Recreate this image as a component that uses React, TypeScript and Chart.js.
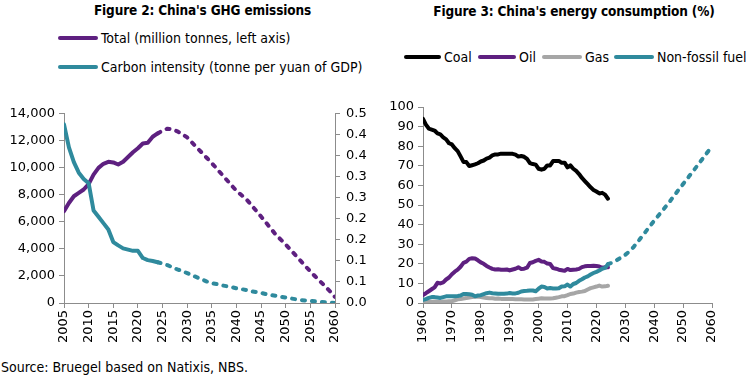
import React, { useEffect, useRef } from "react";
import { Chart, registerables } from "chart.js";
Chart.register(...registerables);

// ---------- Figure 2 data ----------
const ghgHistYears = [2005, 2006, 2007, 2008, 2009, 2010, 2011, 2012, 2013, 2014, 2015, 2016, 2017, 2018, 2019, 2020, 2021, 2022, 2023, 2024];
const totalHist = [6800, 7400, 7900, 8150, 8400, 8800, 9500, 10000, 10300, 10450, 10400, 10250, 10450, 10800, 11150, 11450, 11800, 11850, 12300, 12550];
const intensityHist = [0.425, 0.37, 0.335, 0.31, 0.295, 0.285, 0.22, 0.205, 0.19, 0.175, 0.145, 0.137, 0.13, 0.127, 0.124, 0.124, 0.107, 0.102, 0.1, 0.097];

const ghgProjYears = [2024, 2025, 2026, 2027, 2028, 2029, 2030, 2031, 2032, 2033, 2034, 2035, 2036, 2037, 2038, 2039, 2040, 2041, 2042, 2043, 2044, 2045, 2046, 2047, 2048, 2049, 2050, 2051, 2052, 2053, 2054, 2055, 2056, 2057, 2058, 2059, 2060];
const totalProj = [12550, 12750, 12900, 12850, 12700, 12500, 12250, 11870, 11490, 11110, 10730, 10350, 9940, 9530, 9120, 8710, 8300, 7990, 7680, 7260, 6830, 6400, 5950, 5500, 5050, 4690, 4330, 3930, 3530, 3130, 2730, 2330, 1960, 1600, 1230, 860, 450];
const intensityProj = [0.097, 0.094, 0.09, 0.085, 0.08, 0.076, 0.071, 0.066, 0.061, 0.056, 0.051, 0.047, 0.045, 0.042, 0.04, 0.038, 0.035, 0.033, 0.031, 0.028, 0.026, 0.024, 0.021, 0.019, 0.017, 0.015, 0.013, 0.011, 0.009, 0.007, 0.006, 0.005, 0.004, 0.003, 0.002, 0.001, 0.0];

// ---------- Figure 3 data ----------
const energyYears = [1960, 1961, 1962, 1963, 1964, 1965, 1966, 1967, 1968, 1969, 1970, 1971, 1972, 1973, 1974, 1975, 1976, 1977, 1978, 1979, 1980, 1981, 1982, 1983, 1984, 1985, 1986, 1987, 1988, 1989, 1990, 1991, 1992, 1993, 1994, 1995, 1996, 1997, 1998, 1999, 2000, 2001, 2002, 2003, 2004, 2005, 2006, 2007, 2008, 2009, 2010, 2011, 2012, 2013, 2014, 2015, 2016, 2017, 2018, 2019, 2020, 2021, 2022, 2023, 2024];
const coalShare = [93.9, 91, 89, 88.5, 88, 86.5, 86, 84.5, 83.5, 81.5, 80.9, 79, 77.5, 74.8, 72, 71.9, 69.9, 70.3, 70.7, 71.3, 72.2, 72.7, 73.7, 74.2, 75.3, 75.8, 75.8, 76.2, 76.2, 76.1, 76.2, 76.1, 75.7, 74.7, 75.0, 74.6, 73.5, 71.4, 70.9, 70.6, 68.5, 68.0, 68.5, 70.2, 70.2, 72.4, 72.4, 72.5, 71.5, 71.6, 69.2, 70.2, 68.5, 67.4, 65.8, 63.8, 62.2, 60.6, 59.0, 57.7, 56.9, 55.9, 56.2, 55.3, 53.2];
const oilShare = [4.1, 5, 6, 7, 8, 10.3, 10, 10.5, 12, 13, 14.7, 16, 17, 18.5, 20.5, 21.1, 22.5, 22.8, 22.7, 21.8, 20.7, 20, 18.9, 18.1, 17.4, 17.1, 17.2, 17, 17, 17.1, 16.6, 17.1, 17.5, 18.2, 17.4, 17.5, 18, 20.4, 20.8, 21.5, 22, 21.2, 21, 20.1, 19.9, 17.8, 17.5, 17, 16.7, 16.4, 17.4, 16.8, 17, 17.1, 17.4, 18.3, 18.7, 18.9, 18.9, 19.0, 18.9, 18.6, 17.9, 18.3, 18.2];
const gasShare = [0.5, 0.6, 0.7, 0.7, 0.8, 0.6, 0.7, 0.8, 0.8, 0.9, 0.9, 1.4, 1.9, 2.0, 2.3, 2.5, 2.8, 3.0, 3.2, 3.3, 3.1, 2.8, 2.5, 2.4, 2.4, 2.2, 2.3, 2.1, 2.1, 2.0, 2.1, 2.0, 1.9, 1.9, 1.9, 1.8, 1.8, 1.8, 1.8, 2.0, 2.2, 2.4, 2.3, 2.3, 2.3, 2.4, 2.7, 3.0, 3.4, 3.5, 4.0, 4.6, 4.8, 5.3, 5.6, 5.8, 6.1, 6.9, 7.6, 8.0, 8.4, 8.9, 8.4, 8.5, 8.8];
const nonFossilShare = [1.6, 2.0, 2.6, 3.0, 3.0, 2.8, 2.6, 3.0, 3.4, 3.5, 3.5, 3.5, 3.6, 3.8, 4.6, 4.6, 4.5, 4.2, 3.4, 3.8, 4.0, 4.5, 5.0, 5.3, 5.0, 4.9, 4.7, 4.7, 4.7, 4.8, 5.1, 4.9, 4.9, 5.2, 5.9, 6.1, 6.2, 6.4, 6.4, 6.0, 7.3, 8.4, 8.2, 7.4, 7.6, 7.4, 7.4, 7.5, 8.4, 8.5, 9.4, 8.4, 9.7, 10.2, 11.3, 12.1, 13.0, 13.6, 14.5, 15.3, 15.9, 16.6, 17.5, 17.9, 19.8];
const nonFossilProjYears = [2024, 2025, 2026, 2027, 2028, 2029, 2030, 2031, 2032, 2033, 2034, 2035, 2036, 2037, 2038, 2039, 2040, 2041, 2042, 2043, 2044, 2045, 2046, 2047, 2048, 2049, 2050, 2051, 2052, 2053, 2054, 2055, 2056, 2057, 2058, 2059, 2060];
const nonFossilProj = [19.8, 20.3, 21, 21.8, 22.7, 23.6, 24.6, 25.8, 27.2, 28.8, 30.6, 32.5, 34.4, 36.3, 38.2, 40.1, 42, 43.8, 45.6, 47.4, 49.2, 51, 53, 55, 56.9, 58.8, 60.7, 62.6, 64.5, 66.4, 68.3, 70.2, 72.2, 74.1, 76.1, 78, 80];

// ---------- labels ----------
const fig2Title = "Figure 2: China's GHG emissions";
const fig3Title = "Figure 3: China's energy consumption (%)";
const fig2Legend = ["Total (million tonnes, left axis)", "Carbon intensity (tonne per yuan of GDP)"];
const fig3Legend = ["Coal", "Oil", "Gas", "Non-fossil fuel"];
const sourceText = "Source: Bruegel based on Natixis, NBS.";

const PURPLE = "#5e2080";
const TEAL = "#2f8a9d";
const GREY = "#a6a6a6";
const BLACK = "#000000";
const AXIS = "#8c8c8c";
const TEXT_FONT = "'DejaVu Sans Condensed', 'DejaVu Sans', sans-serif";
const TICK_FONT = { family: "'DejaVu Sans', Verdana, sans-serif", size: 13 };

const zip = (xs: number[], ys: number[]) => xs.map((x, i) => ({ x, y: ys[i] }));

const solid = (label: string, xs: number[], ys: number[], color: string, axis: string, order: number) => ({
  label, data: zip(xs, ys), yAxisID: axis, borderColor: color, backgroundColor: color,
  borderWidth: 4, pointRadius: 0, tension: 0, fill: false, order,
  borderCapStyle: "round" as const, borderJoinStyle: "round" as const,
});
const dashed = (label: string, xs: number[], ys: number[], color: string, axis: string, order: number) => ({
  ...solid(label, xs, ys, color, axis, order), borderDash: [3, 7],
});

const gridCfg = { display: true, drawOnChartArea: false, drawTicks: true, tickLength: 5, color: AXIS };
const borderCfg = { display: true, color: AXIS, width: 1 };

function App() {
  const leftRef = useRef<HTMLCanvasElement | null>(null);
  const rightRef = useRef<HTMLCanvasElement | null>(null);

  useEffect(() => {
    const left = new Chart(leftRef.current as HTMLCanvasElement, {
      type: "line",
      data: {
        datasets: [
          solid("Carbon intensity", ghgHistYears, intensityHist, TEAL, "y1", 0),
          dashed("Carbon intensity projection", ghgProjYears, intensityProj, TEAL, "y1", 1),
          solid("Total", ghgHistYears, totalHist, PURPLE, "y", 2),
          dashed("Total projection", ghgProjYears, totalProj, PURPLE, "y", 3),
        ],
      } as any,
      options: {
        animation: false, responsive: false, maintainAspectRatio: false,
        layout: { padding: { top: 11, left: 0, right: 0, bottom: 0 } },
        plugins: { legend: { display: false }, tooltip: { enabled: false }, title: { display: false } },
        scales: {
          x: {
            type: "linear", min: 2005, max: 2060,
            ticks: { stepSize: 5, autoSkip: false, maxRotation: 90, minRotation: 90, color: "#000", font: TICK_FONT, padding: 2, callback: (v: any) => String(v) },
            grid: gridCfg, border: borderCfg,
            afterFit: (s: any) => { s.height = 54; },
          },
          y: {
            position: "left", min: 0, max: 14000,
            ticks: { stepSize: 2000, color: "#000", font: TICK_FONT, padding: 4, callback: (v: any) => Number(v).toLocaleString("en-US") },
            grid: gridCfg, border: borderCfg,
            afterFit: (s: any) => { s.width = 64; },
          },
          y1: {
            position: "right", min: 0, max: 0.45,
            ticks: { stepSize: 0.05, color: "#000", font: TICK_FONT, padding: 6, callback: (v: any) => (Math.round(Number(v) * 10 + 1e-6) / 10).toFixed(1) },
            grid: gridCfg, border: borderCfg,
            afterFit: (s: any) => { s.width = 40; },
          },
        },
      } as any,
    });

    const right = new Chart(rightRef.current as HTMLCanvasElement, {
      type: "line",
      data: {
        datasets: [
          solid(fig3Legend[3], energyYears, nonFossilShare, TEAL, "y", 0),
          dashed("Non-fossil projection", nonFossilProjYears, nonFossilProj, TEAL, "y", 1),
          solid(fig3Legend[0], energyYears, coalShare, BLACK, "y", 2),
          solid(fig3Legend[1], energyYears, oilShare, PURPLE, "y", 3),
          solid(fig3Legend[2], energyYears, gasShare, GREY, "y", 4),
        ],
      } as any,
      options: {
        animation: false, responsive: false, maintainAspectRatio: false,
        layout: { padding: { top: 12, left: 0, right: 38, bottom: 0 } },
        plugins: { legend: { display: false }, tooltip: { enabled: false }, title: { display: false } },
        scales: {
          x: {
            type: "linear", min: 1960, max: 2060,
            ticks: { stepSize: 10, autoSkip: false, maxRotation: 90, minRotation: 90, color: "#000", font: TICK_FONT, padding: 2, callback: (v: any) => String(v) },
            grid: gridCfg, border: borderCfg,
            afterFit: (s: any) => { s.height = 54; },
          },
          y: {
            position: "left", min: 0, max: 100,
            ticks: { stepSize: 10, color: "#000", font: TICK_FONT, padding: 4, callback: (v: any) => String(v) },
            grid: gridCfg, border: borderCfg,
            afterFit: (s: any) => { s.width = 48; },
          },
        },
      } as any,
    });

    return () => { left.destroy(); right.destroy(); };
  }, []);

  const txt: React.CSSProperties = { position: "absolute", fontFamily: TEXT_FONT, fontSize: 14, color: "#000", whiteSpace: "nowrap", lineHeight: "18px" };
  const title: React.CSSProperties = { ...txt, fontSize: 13.5, fontWeight: "bold", textAlign: "center", letterSpacing: -0.15 };
  const swatch = (color: string, x: number, y: number, w: number) => (
    <div style={{ position: "absolute", left: x, top: y - 2, width: w, height: 4, borderRadius: 2, background: color }} />
  );

  return (
    <div style={{ position: "absolute", left: 0, top: 0, width: 750, height: 376, background: "#fff", overflow: "hidden" }}>
      <div style={{ ...title, left: 0, width: 405, top: 1 }}>{fig2Title}</div>
      <div style={{ ...title, left: 375, width: 398, top: 2 }}>{fig3Title}</div>

      {swatch(PURPLE, 58, 38, 40)}
      <div style={{ ...txt, left: 101, top: 29 }}>{fig2Legend[0]}</div>
      {swatch(TEAL, 58, 67, 40)}
      <div style={{ ...txt, left: 101, top: 58 }}>{fig2Legend[1]}</div>

      {swatch(BLACK, 404, 57, 37)}
      <div style={{ ...txt, left: 444, top: 48 }}>{fig3Legend[0]}</div>
      {swatch(PURPLE, 478, 57, 38)}
      <div style={{ ...txt, left: 519, top: 48 }}>{fig3Legend[1]}</div>
      {swatch(GREY, 542, 57, 40)}
      <div style={{ ...txt, left: 585, top: 48 }}>{fig3Legend[2]}</div>
      {swatch(TEAL, 614, 57, 40)}
      <div style={{ ...txt, left: 657, top: 48 }}>{fig3Legend[3]}</div>

      <canvas ref={leftRef} width={375} height={257} style={{ position: "absolute", left: 0, top: 100, width: 375, height: 257 }} />
      <canvas ref={rightRef} width={375} height={262} style={{ position: "absolute", left: 375, top: 95, width: 375, height: 262 }} />

      <div style={{ ...txt, left: 1, top: 358 }}>{sourceText}</div>
    </div>
  );
}

export default App;
